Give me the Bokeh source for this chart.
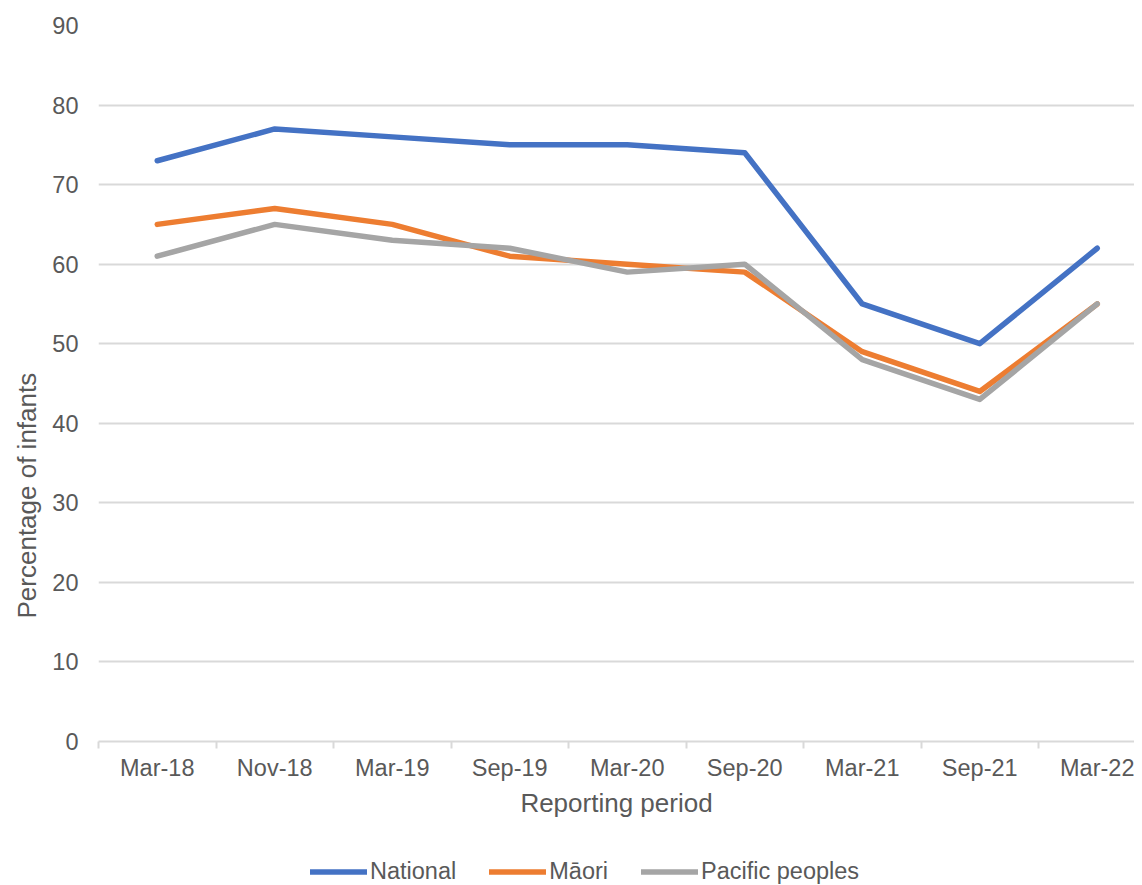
from bokeh.plotting import figure
from bokeh.models import Range1d, FixedTicker, Legend, LegendItem, Title
from bokeh.layouts import column
from bokeh.embed import file_html
from bokeh.resources import INLINE

periods = ["Mar-18", "Nov-18", "Mar-19", "Sep-19", "Mar-20", "Sep-20", "Mar-21", "Sep-21", "Mar-22"]
national = [73, 77, 76, 75, 75, 74, 55, 50, 62]
maori = [65, 67, 65, 61, 60, 59, 49, 44, 55]
pacific = [61, 65, 63, 62, 59, 60, 48, 43, 55]

series_names = ["National", "Māori", "Pacific peoples"]
colors = ["#4472C4", "#ED7D31", "#A5A5A5"]

FONT = "Liberation Sans"
TXT = "#595959"
GRID = "#D9D9D9"
LW = 5.5

xs = [i + 0.5 for i in range(len(periods))]
all_series = [national, maori, pacific]

p = figure(width=1134, height=835, output_backend="svg", toolbar_location=None,
           x_range=Range1d(0, 8.817), y_range=Range1d(0, 90),
           min_border_left=98, min_border_right=0, min_border_top=25, min_border_bottom=94)
p.outline_line_color = None
p.background_fill_color = "white"

for vals, c in zip(all_series, colors):
    p.line(xs, vals, line_color=c, line_width=LW, line_join="round", line_cap="round")

# x axis
xa = p.xaxis[0]
xa.ticker = FixedTicker(ticks=xs, minor_ticks=list(range(len(periods) + 1)))
xa.major_label_overrides = {x: lab for x, lab in zip(xs, periods)}
xa.major_tick_line_color = None
xa.major_tick_out = 0
xa.major_tick_in = 0
xa.minor_tick_line_color = GRID
xa.minor_tick_line_width = 2
xa.minor_tick_out = 7
xa.minor_tick_in = 0
xa.axis_line_color = GRID
xa.axis_line_width = 2
xa.major_label_text_font = FONT
xa.major_label_text_font_size = "23.5px"
xa.major_label_text_color = TXT
xa.major_label_standoff = 6
xa.axis_label = "Reporting period"
xa.axis_label_text_font = FONT
xa.axis_label_text_font_size = "26px"
xa.axis_label_text_font_style = "normal"
xa.axis_label_text_color = TXT
xa.axis_label_standoff = 4

# y axis
ya = p.yaxis[0]
ya.ticker = FixedTicker(ticks=list(range(0, 91, 10)))
ya.axis_line_color = None
ya.major_tick_line_color = None
ya.minor_tick_line_color = None
ya.major_label_text_font = FONT
ya.major_label_text_font_size = "23.5px"
ya.major_label_text_color = TXT
ya.major_label_standoff = 14

p.xgrid.grid_line_color = None
p.ygrid.grid_line_color = GRID
p.ygrid.grid_line_width = 2
p.ygrid.ticker = FixedTicker(ticks=list(range(10, 91, 10)))

ytitle = Title(text="Percentage of infants", align="left", offset=123,
               text_font=FONT, text_font_size="26px", text_font_style="normal",
               text_color=TXT, standoff=16)
p.add_layout(ytitle, "left")

# legend strip (series drawn out of view, only their legend glyphs show)
lg = figure(width=1134, height=50, output_backend="svg", toolbar_location=None,
            x_axis_type=None, y_axis_type=None,
            x_range=Range1d(0, 8.817), y_range=Range1d(500, 501), min_border=0)
lg.grid.visible = False
lg.outline_line_color = None
proxies = [lg.line(xs, vals, line_color=c, line_width=LW, line_cap="round")
           for vals, c in zip(all_series, colors)]

legend = Legend(items=[LegendItem(label=n, renderers=[r]) for n, r in zip(series_names, proxies)],
                orientation="horizontal", location=(212, 0),
                glyph_width=57, glyph_height=27, label_standoff=3, spacing=33,
                padding=0, margin=0, border_line_color=None, background_fill_alpha=0,
                label_text_font=FONT, label_text_font_size="23.5px", label_text_color=TXT,
                label_height=27)
lg.add_layout(legend)

layout = column(p, lg, spacing=0)
open("out.html", "w").write(file_html(layout, INLINE))
